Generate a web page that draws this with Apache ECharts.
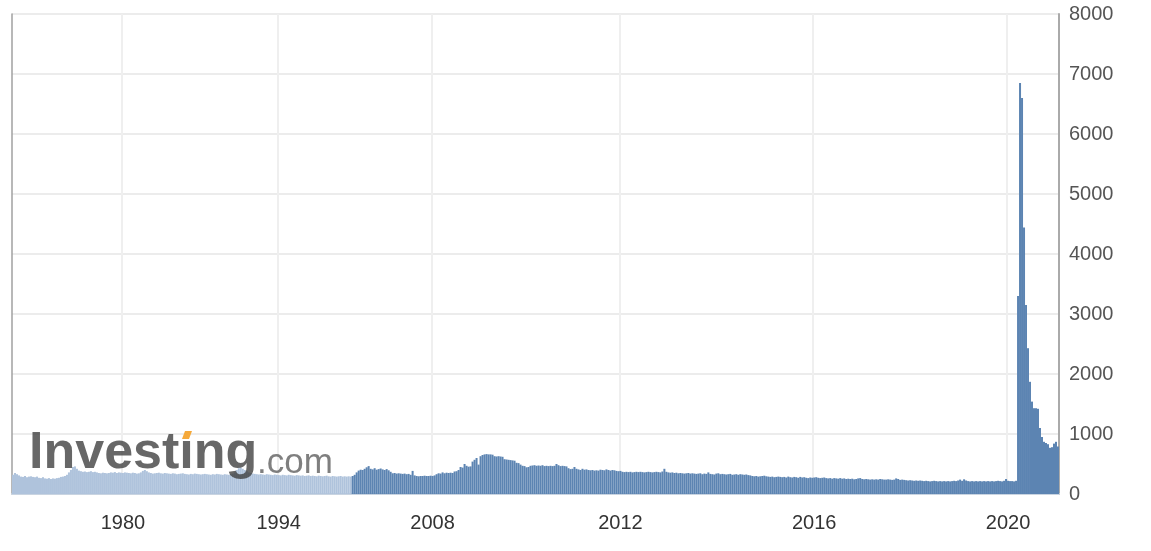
<!DOCTYPE html>
<html>
<head>
<meta charset="utf-8">
<script src="https://cdn.jsdelivr.net/npm/echarts@6/dist/echarts.min.js"></script>
<style>
html,body{margin:0;padding:0;background:#fff;}
#chart{width:1151px;height:551px;}
</style>
</head>
<body>
<div id="chart"></div>
<script>
// Older history (drawn faded)
const earlyValues = [
  320, 350, 330, 310,
  290, 285, 300, 280, 290, 295, 285, 280, 290,
  270, 265, 280, 260, 255, 265, 250, 260, 255, 265, 270,
  285, 290, 300, 320,
  360, 400, 450, 460, 420, 390,
  380, 370, 375, 365, 370, 380, 365, 370, 360,
  350, 345, 355, 350, 345, 350,
  360, 355, 365, 350, 360, 355, 350, 360, 355, 350,
  345, 355, 350, 340, 345,
  360, 385, 400, 380, 360,
  350, 340, 345, 350, 355, 345, 340, 350, 345,
  340, 335, 345, 340, 330, 335, 340, 345, 335, 330, 325, 335, 330, 340, 335, 330,
  325, 330, 335, 330, 325, 320, 330, 325, 335, 330, 325, 320, 330, 325, 320, 330,
  340, 360, 400, 430, 440, 420, 400, 380, 360, 350, 340, 335, 330, 325,
  330, 325, 320, 330, 325, 320, 315, 325, 320, 315,
  310, 320, 315, 310, 320, 315, 310, 305, 315, 310,
  305, 310, 300, 305, 310, 300, 305, 300, 295, 305,
  300, 295, 300, 305, 295, 290, 300, 295, 290, 295,
  300, 290, 295, 290, 295, 290
];
// Recent weekly history (drawn solid)
const recentValues = [
  300, 320, 360, 390, 405, 400, 420, 445, 465, 420,
  410, 430, 405, 415, 425, 410, 400, 415, 395, 370,
  345, 350, 340, 345, 340, 335, 340, 330, 335, 320,
  385, 310, 300, 295, 300, 300, 305, 300, 300, 305,
  300, 310, 330, 345, 340, 360, 345, 355, 350, 355,
  350, 375, 380, 400, 450, 440, 500, 470, 455, 460,
  540, 570, 600, 490, 630, 650, 660, 665, 660, 660,
  655, 630, 625, 630, 625, 620, 580, 575, 570, 565,
  560, 555, 520, 515, 490, 470, 465, 445, 450, 470,
  475, 480, 470, 475, 470, 480, 465, 470, 465, 470,
  465, 470, 500, 480, 465, 470, 465, 460, 430, 415,
  420, 450, 420, 410, 400, 420, 405, 410, 400, 395,
  400, 390, 395, 390, 405, 400, 395, 410, 400, 390,
  400, 395, 385, 380, 385, 370, 365, 370, 365, 370,
  360, 365, 370, 365, 370, 365, 360, 365, 370, 365,
  360, 365, 370, 365, 360, 375, 420, 370, 360, 355,
  360, 350, 355, 345, 350, 345, 340, 345, 350, 340,
  345, 340, 335, 340, 345, 330, 340, 335, 360, 335,
  330, 325, 340, 345, 330, 335, 330, 325, 330, 335,
  320, 325, 330, 320, 330, 325, 320, 325, 315, 310,
  300, 295, 300, 290, 295, 300, 305, 295, 290, 285,
  290, 280, 285, 290, 285, 280, 285, 275, 290, 280,
  275, 285, 280, 270, 285, 275, 280, 270, 265, 275,
  270, 275, 280, 270, 265, 270, 275, 265, 260, 265,
  255, 265, 260, 255, 265, 255, 260, 250, 255, 250,
  255, 245, 250, 260, 265, 250, 245, 250, 245, 240,
  245, 240, 245, 240, 250, 245, 240, 240, 245, 240,
  235, 240, 260, 250, 235, 240, 235, 230, 225, 230,
  225, 220, 225, 220, 225, 220, 215, 220, 215, 210,
  215, 220, 215, 210, 215, 210, 215, 210, 215, 210,
  215, 220, 215, 225, 240, 220, 245, 225, 215, 210,
  215, 210, 215, 210, 215, 210, 215, 210, 215, 210,
  215, 210, 215, 220, 215, 210, 220, 250, 220, 215,
  215, 210, 220, 3300, 6850, 6600, 4440, 3150, 2430, 1870,
  1540, 1430, 1430, 1420, 1100, 950, 870, 850, 830, 770,
  780, 840, 870, 790
];
// x-axis tick labels and the category (bar) each one sits under
const tickLabels = ['1980', '1994', '2008', '2012', '2016', '2020'];
const tickIndex = [55, 133, 210, 304, 401, 498];
// y-axis ticks
const yMin = 0, yMax = 8000, yStep = 1000;

const allValues = earlyValues.concat(recentValues);
const categories = allValues.map((_, i) => {
  const k = tickIndex.indexOf(i);
  return k >= 0 ? tickLabels[k] : String(i);
});
const lightColor = '#afc3dc';
const darkColor = '#5c84b2';
const seriesData = allValues.map((v, i) => ({
  value: v,
  itemStyle: { color: i < earlyValues.length ? lightColor : darkColor }
}));
const showTick = (i) => tickIndex.indexOf(i) >= 0;
const FONT = '"Liberation Sans", Arial, sans-serif';

const chart = echarts.init(document.getElementById('chart'), null, { renderer: 'canvas' });
chart.setOption({
  animation: false,
  backgroundColor: '#ffffff',
  grid: { left: 12, right: 92, top: 14, bottom: 57, containLabel: false },
  xAxis: {
    type: 'category',
    data: categories,
    boundaryGap: true,
    axisLine: { show: true, lineStyle: { color: '#c9d4e1', width: 2 } },
    axisTick: { show: false },
    axisLabel: {
      interval: showTick,
      formatter: (v) => v,
      color: '#333',
      fontFamily: FONT,
      fontSize: 20,
      margin: 19
    },
    splitLine: { show: true, interval: showTick, lineStyle: { color: '#efefef', width: 2 } }
  },
  yAxis: [
    {
      type: 'value',
      position: 'right',
      min: yMin, max: yMax, interval: yStep,
      axisLine: { show: true, lineStyle: { color: '#aaaaaa', width: 2 } },
      axisTick: { show: false },
      axisLabel: { color: '#555', fontFamily: FONT, fontSize: 20, margin: 10, formatter: (v) => String(v) },
      splitLine: { show: true, lineStyle: { color: '#ececec', width: 2 } }
    },
    {
      type: 'value',
      position: 'left',
      min: yMin, max: yMax, interval: yStep,
      axisLine: { show: true, lineStyle: { color: '#a0a0a0', width: 1.5 } },
      axisTick: { show: false },
      axisLabel: { show: false },
      splitLine: { show: false }
    }
  ],
  series: [{
    type: 'bar',
    data: seriesData,
    barCategoryGap: '0%',
    barGap: '0%',
    yAxisIndex: 0
  }],
  graphic: [
    {
      type: 'text', left: 29, top: 428, z: 100,
      style: { text: 'Investıng', font: 'bold 52px "Liberation Sans", Arial, sans-serif', fill: 'rgba(60,60,60,0.78)' }
    },
    {
      type: 'text', left: 257, top: 446, z: 100,
      style: { text: '.com', font: '35px "Liberation Sans", Arial, sans-serif', fill: 'rgba(95,95,95,0.8)' }
    },
    {
      type: 'polygon', z: 101,
      shape: { points: [[182, 439], [185, 431], [192, 431], [189, 439]] },
      style: { fill: '#f5a93a' }
    }
  ]
});
</script>
</body>
</html>
